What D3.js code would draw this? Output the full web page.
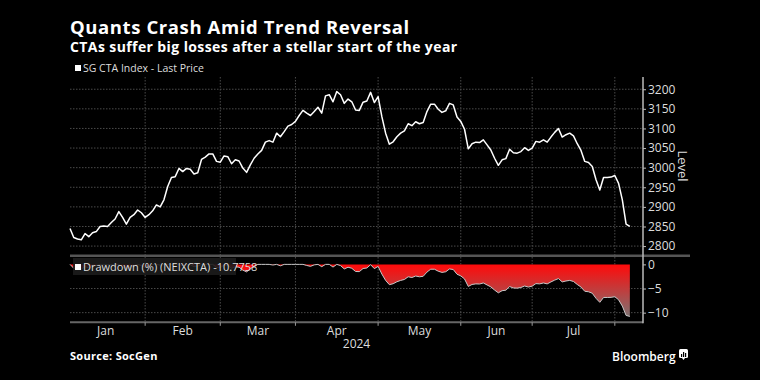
<!DOCTYPE html>
<html>
<head>
<meta charset="utf-8">
<script src="https://cdn.jsdelivr.net/npm/d3@7"></script>
<style>
  body { margin: 0; background: #000; }
  svg { display: block; font-family: "Open Sans", "Noto Sans", sans-serif; }
</style>
</head>
<body>
<div id="chart"></div>
<script>
// trading days Jan 2 - Aug 6 2024
var dates = ["1/2","1/3","1/4","1/5","1/8","1/9","1/10","1/11","1/12","1/16","1/17","1/18","1/19","1/22","1/23","1/24","1/25","1/26","1/29","1/30","1/31",
  "2/1","2/2","2/5","2/6","2/7","2/8","2/9","2/12","2/13","2/14","2/15","2/16","2/20","2/21","2/22","2/23","2/26","2/27","2/28","2/29",
  "3/1","3/4","3/5","3/6","3/7","3/8","3/11","3/12","3/13","3/14","3/15","3/18","3/19","3/20","3/21","3/22","3/25","3/26","3/27","3/28",
  "4/1","4/2","4/3","4/4","4/5","4/8","4/9","4/10","4/11","4/12","4/15","4/16","4/17","4/18","4/19","4/22","4/23","4/24","4/25","4/26","4/29","4/30",
  "5/1","5/2","5/3","5/6","5/7","5/8","5/9","5/10","5/13","5/14","5/15","5/16","5/17","5/20","5/21","5/22","5/23","5/24","5/28","5/29","5/30","5/31",
  "6/3","6/4","6/5","6/6","6/7","6/10","6/11","6/12","6/13","6/14","6/17","6/18","6/20","6/21","6/24","6/25","6/26","6/27","6/28",
  "7/1","7/2","7/3","7/5","7/8","7/9","7/10","7/11","7/12","7/15","7/16","7/17","7/18","7/19","7/22","7/23","7/24","7/25","7/26","7/29","7/30","7/31",
  "8/1","8/2","8/5","8/6"];

// SG CTA Index - Last Price
var level = [2845,2822,2818,2816,2832,2824,2834,2837,2850,2851,
  2850,2860,2869,2888,2873,2856,2873,2880,2892,2885,
  2873,2880,2890,2905,2900,2918,2952,2975,2977,2998,
  2990,2998,2996,2984,2987,3021,3027,3035,3035,3016,
  3014,3030,3028,3010,3020,3017,2999,2988,3007,3024,
  3035,3044,3065,3069,3065,3088,3079,3092,3106,3110,
  3118,3133,3146,3139,3133,3143,3154,3139,3183,3186,
  3168,3194,3186,3164,3175,3168,3147,3146,3167,3170,
  3192,3166,3181,3130,3088,3060,3066,3079,3088,3094,
  3112,3107,3117,3112,3115,3143,3162,3162,3149,3141,
  3145,3164,3160,3129,3118,3098,3048,3061,3065,3064,
  3071,3058,3045,3024,3006,3020,3023,3047,3038,3037,
  3041,3051,3044,3050,3067,3065,3071,3065,3078,3090,
  3100,3078,3084,3088,3081,3061,3044,3016,3013,3003,
  2969,2943,2975,2975,2976,2980,2960,2918,2856,2850];

// Drawdown (%) (NEIXCTA)
var drawdown = [0,-0.81,-0.95,-1.02,-0.46,-0.74,-0.39,-0.28,0,0,
  -0.04,0,0,0,-0.52,-1.11,-0.52,-0.28,0,-0.24,
  -0.66,-0.41,-0.07,0,-0.17,0,0,0,0,0,
  -0.27,0,-0.07,-0.47,-0.37,0,0,0,0,-0.63,
  -0.69,-0.16,-0.23,-0.82,-0.49,-0.59,-1.19,-1.55,-0.92,-0.36,
  0,0,0,0,-0.13,0,-0.29,0,0,0,
  0,0,0,-0.22,-0.41,-0.10,0,-0.48,0,0,
  -0.56,0,-0.25,-0.94,-0.59,-0.81,-1.47,-1.50,-0.85,-0.75,
  -0.06,-0.88,-0.41,-2.00,-3.32,-4.20,-4.01,-3.60,-3.32,-3.13,
  -2.57,-2.72,-2.41,-2.57,-2.47,-1.60,-1.00,-1.00,-1.41,-1.66,
  -1.53,-0.94,-1.06,-2.04,-2.38,-3.01,-4.57,-4.16,-4.04,-4.07,
  -3.85,-4.26,-4.66,-5.32,-5.89,-5.45,-5.35,-4.60,-4.88,-4.92,
  -4.79,-4.48,-4.70,-4.51,-3.98,-4.04,-3.85,-4.04,-3.63,-3.26,
  -2.94,-3.63,-3.44,-3.32,-3.54,-4.16,-4.70,-5.57,-5.67,-5.98,
  -7.04,-7.86,-6.86,-6.86,-6.83,-6.70,-7.33,-8.64,-10.58,-10.78];

var levelTicks = [2800,2850,2900,2950,3000,3050,3100,3150,3200];
var ddTicks = [0,-5,-10];
var months = ["Jan","Feb","Mar","Apr","May","Jun","Jul"];

var W = 760, H = 380;
var left = 70, right = 643;
var topY0 = 77, sepY = 255.7, botY = 322.3;

var svg = d3.select('#chart').append('svg')
  .attr("width", W).attr("height", H);
svg.append("rect").attr("width", W).attr("height", H).attr("fill", "#000");

var parse = d3.timeParse("%Y/%m/%d");
var data = dates.map(function(d, i) {
  return {i: i, date: parse("2024/" + d), level: level[i], dd: drawdown[i]};
});

// x is a trading-day scale (index into dates)
var x = d3.scaleLinear().domain([0, 152.5]).range([left, right]);
var y = d3.scaleLinear().domain([2775.5, 3231.2]).range([sepY, topY0]);
var yd = d3.scaleLinear().domain([-12, 1.8]).range([botY, sepY]);

// month boundaries: gridline sits at last trading day of previous month
var firstIdx = [];
data.forEach(function(d, i) {
  if (i == 0 || d.date.getMonth() != data[i - 1].date.getMonth()) firstIdx.push(i);
});
var bounds = firstIdx.map(function(i) { return i - 1; });

var grid = svg.append("g")
  .attr("stroke", "#4a4a4a").attr("stroke-width", 1).attr("stroke-dasharray", "1.5,1.5");

grid.selectAll("line.h").data(levelTicks).enter().append("line")
  .attr("x1", left).attr("x2", right)
  .attr("y1", function(d) { return y(d); }).attr("y2", function(d) { return y(d); });

grid.selectAll("line.hd").data([-5, -10]).enter().append("line")
  .attr("x1", left).attr("x2", right)
  .attr("y1", function(d) { return yd(d); }).attr("y2", function(d) { return yd(d); });

grid.selectAll("line.v").data(bounds.slice(1)).enter().append("line")
  .attr("x1", function(d) { return x(d); }).attr("x2", function(d) { return x(d); })
  .attr("y1", topY0).attr("y2", botY);

// drawdown area
var defs = svg.append("defs");
var grad = defs.append("linearGradient").attr("id", "ddgrad")
  .attr("gradientUnits", "userSpaceOnUse")
  .attr("x1", 0).attr("x2", 0).attr("y1", yd(0)).attr("y2", yd(-11));
grad.append("stop").attr("offset", "0%").attr("stop-color", "#ff0a0a");
grad.append("stop").attr("offset", "100%").attr("stop-color", "#7d7474");

var area = d3.area()
  .x(function(d) { return x(d.i); })
  .y0(yd(0))
  .y1(function(d) { return yd(d.dd); });

svg.append("path").datum(data)
  .attr("d", area)
  .attr("fill", "url(#ddgrad)");

svg.append("path").datum(data)
  .attr("d", d3.line().x(function(d) { return x(d.i); }).y(function(d) { return yd(d.dd); }))
  .attr("fill", "none").attr("stroke", "#c8c8c8").attr("stroke-width", 1);

// price line
svg.append("path").datum(data)
  .attr("d", d3.line().x(function(d) { return x(d.i); }).y(function(d) { return y(d.level); }))
  .attr("fill", "none").attr("stroke", "#fff").attr("stroke-width", 1.5)
  .attr("stroke-linejoin", "round");

// panel frame lines
svg.append("line").attr("x1", left).attr("x2", 690).attr("y1", sepY).attr("y2", sepY)
  .attr("stroke", "#555").attr("stroke-width", 2.5);
svg.append("line").attr("x1", left).attr("x2", right).attr("y1", botY).attr("y2", botY)
  .attr("stroke", "#666").attr("stroke-width", 2);
svg.append("line").attr("x1", right).attr("x2", right).attr("y1", topY0).attr("y2", botY + 1)
  .attr("stroke", "#bbb").attr("stroke-width", 1.5);

// right axes
var fmt = d3.format("d");
var axisTop = svg.append("g").attr("transform", "translate(" + right + ",0)")
  .call(d3.axisRight(y).tickValues(levelTicks).tickFormat(fmt).tickSize(3).tickPadding(2));
var axisBot = svg.append("g").attr("transform", "translate(" + right + ",0)")
  .call(d3.axisRight(yd).tickValues(ddTicks).tickFormat(fmt).tickSize(3).tickPadding(2));
[axisTop, axisBot].forEach(function(a) {
  a.select(".domain").remove();
  a.selectAll("line").attr("stroke", "#bbb");
  a.selectAll("text").attr("fill", "#ddd").attr("font-size", 12)
    .attr("font-family", "'Open Sans', 'Noto Sans', sans-serif");
});

svg.append("text")
  .attr("transform", "translate(678,166) rotate(90)")
  .attr("text-anchor", "middle")
  .attr("fill", "#ddd").attr("font-size", 13)
  .text("Level");

// x axis: ticks at month boundaries, labels centred in month
svg.selectAll("line.xt").data(bounds.slice(1)).enter().append("line")
  .attr("x1", function(d) { return x(d); }).attr("x2", function(d) { return x(d); })
  .attr("y1", botY).attr("y2", botY + 3.5)
  .attr("stroke", "#999");

svg.selectAll("text.month").data(months).enter().append("text")
  .attr("x", function(d, i) { return x((bounds[i] + bounds[i + 1]) / 2); })
  .attr("y", 334.5)
  .attr("text-anchor", "middle")
  .attr("fill", "#ddd").attr("font-size", 12)
  .text(function(d) { return d; });

svg.append("text")
  .attr("x", (left + right) / 2).attr("y", 347.5)
  .attr("text-anchor", "middle")
  .attr("fill", "#ddd").attr("font-size", 12)
  .text("2024");

// legends
svg.append("rect").attr("x", 75).attr("y", 65).attr("width", 6).attr("height", 6).attr("fill", "#fff");
svg.append("text").attr("x", 83).attr("y", 71.5)
  .attr("fill", "#ddd").attr("font-size", 10.5)
  .text("SG CTA Index - Last Price");

svg.append("rect").attr("x", 73).attr("y", 258).attr("width", 163).attr("height", 17)
  .attr("fill", "#1c1c1c").attr("opacity", 0.9);
svg.append("rect").attr("x", 75).attr("y", 264).attr("width", 6).attr("height", 6).attr("fill", "#fff");
svg.append("text").attr("x", 83).attr("y", 270.5)
  .attr("fill", "#ddd").attr("font-size", 11)
  .text("Drawdown (%) (NEIXCTA) -10.7758");

// titles
svg.append("text").attr("x", 70).attr("y", 33.5)
  .attr("fill", "#fff").attr("font-size", 18.5).attr("font-weight", "bold")
  .attr("letter-spacing", 0.6)
  .text("Quants Crash Amid Trend Reversal");
svg.append("text").attr("x", 70).attr("y", 51.5)
  .attr("fill", "#fff").attr("font-size", 14).attr("font-weight", "bold")
  .attr("letter-spacing", 0.4)
  .text("CTAs suffer big losses after a stellar start of the year");

svg.append("text").attr("x", 70).attr("y", 360)
  .attr("fill", "#fff").attr("font-size", 11).attr("font-weight", "bold")
  .attr("letter-spacing", 0.3)
  .text("Source: SocGen");

svg.append("text").attr("x", 612).attr("y", 361)
  .attr("fill", "#fff").attr("font-size", 12).attr("font-weight", 600)
  .text("Bloomberg");
var logo = svg.append("g").attr("transform", "translate(679,349)");
logo.append("rect").attr("width", 9).attr("height", 9).attr("rx", 1.5).attr("fill", "#fff");
logo.append("path").attr("d", "M3,9 L4.5,11 L6,9 Z").attr("fill", "#fff");
logo.selectAll("rect.bar").data([3, 5, 4]).enter().append("rect")
  .attr("x", function(d, i) { return 2 + i * 2; })
  .attr("y", function(d) { return 8 - d; })
  .attr("width", 1.2)
  .attr("height", function(d) { return d; })
  .attr("fill", "#000");
</script>
</body>
</html>
